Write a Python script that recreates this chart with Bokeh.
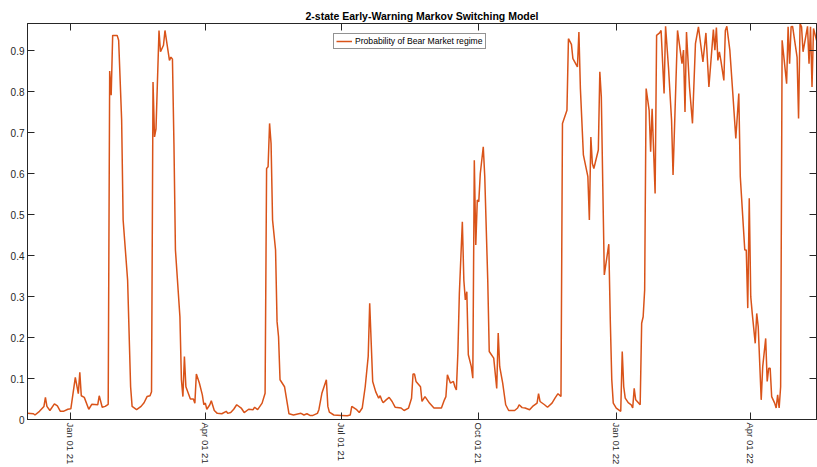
import pandas as pd
from bokeh.plotting import figure
from bokeh.models import (Range1d, LinearAxis, DatetimeAxis, FixedTicker,
                          DatetimeTickFormatter, Legend, LegendItem)
from bokeh.embed import file_html
from bokeh.resources import INLINE

# ---------------- data ----------------
BASE_DATE = "2021-01-01"
day_offset = [
    -29, -25, -24, -21, -18, -17, -16, -14, -11, -9, -7, -5, -2, 0, 3, 5, 6, 7, 9, 12,
    14, 18, 19, 21, 23, 25, 26, 27, 28, 31, 32, 34, 35, 38, 40, 41, 44, 47, 49, 51,
    53, 54, 55, 56, 57, 59, 60, 62, 63, 66, 67, 68, 69, 70, 73, 74, 75, 76, 77, 80,
    82, 83, 84, 86, 88, 89, 90, 91, 93, 94, 96, 98, 101, 104, 105, 107, 109, 111, 114, 116,
    119, 122, 123, 125, 128, 130, 131, 132, 133, 134, 135, 137, 138, 139, 140, 143, 145, 146, 149, 154,
    156, 158, 160, 162, 165, 166, 168, 171, 172, 173, 176, 181, 185, 187, 188, 191, 193, 195, 197, 199,
    200, 202, 204, 206, 207, 208, 209, 211, 213, 215, 217, 221, 223, 226, 228, 229, 230, 231, 234, 235,
    237, 240, 243, 248, 250, 251, 252, 254, 256, 257, 258, 259, 260, 262, 263, 264, 265, 266, 268, 269,
    270, 271, 272, 273, 274, 276, 277, 279, 280, 283, 285, 286, 287, 289, 291, 293, 297, 299, 300, 302,
    304, 307, 309, 312, 313, 314, 317, 319, 322, 324, 326, 328, 329, 332, 333, 335, 336, 339, 340, 341,
    343, 346, 347, 348, 349, 350, 353, 354, 355, 356, 357, 360, 361, 362, 363, 365, 368, 369, 370, 371,
    373, 375, 376, 377, 378, 381, 382, 383, 384, 385, 387, 388, 389, 391, 392, 394, 395, 397, 398, 400,
    402, 403, 406, 409, 410, 411, 412, 414, 416, 418, 420, 423, 425, 427, 430, 431, 432, 433, 434, 435,
    437, 438, 439, 441, 443, 445, 447, 448, 451, 452, 453, 454, 455, 456, 458, 459, 460, 462, 463, 465,
    466, 467, 468, 469, 471, 472, 473, 474, 475, 476, 479, 480, 481, 482, 483, 486, 487, 488, 489, 490,
    493, 494, 495, 496, 497, 499,
]
bear_prob = [
    0.015, 0.014, 0.011, 0.020, 0.032, 0.054, 0.032, 0.022, 0.038, 0.033, 0.020, 0.020, 0.025, 0.026, 0.103, 0.063, 0.115, 0.058, 0.054, 0.025,
    0.037, 0.036, 0.058, 0.030, 0.032, 0.037, 0.851, 0.792, 0.938, 0.938, 0.926, 0.731, 0.487, 0.340, 0.080, 0.032, 0.024, 0.032, 0.041, 0.056,
    0.058, 0.068, 0.824, 0.690, 0.710, 0.950, 0.898, 0.914, 0.950, 0.877, 0.885, 0.880, 0.674, 0.414, 0.251, 0.097, 0.056, 0.154, 0.080, 0.050,
    0.050, 0.040, 0.111, 0.089, 0.060, 0.036, 0.040, 0.025, 0.036, 0.046, 0.022, 0.015, 0.014, 0.020, 0.015, 0.017, 0.025, 0.036, 0.028, 0.017,
    0.025, 0.024, 0.030, 0.024, 0.040, 0.064, 0.613, 0.617, 0.723, 0.674, 0.487, 0.414, 0.239, 0.202, 0.097, 0.080, 0.036, 0.014, 0.011, 0.015,
    0.011, 0.014, 0.010, 0.010, 0.015, 0.024, 0.064, 0.097, 0.032, 0.018, 0.011, 0.010, 0.009, 0.011, 0.032, 0.025, 0.017, 0.028, 0.080, 0.154,
    0.284, 0.093, 0.068, 0.052, 0.058, 0.048, 0.041, 0.048, 0.054, 0.044, 0.030, 0.028, 0.022, 0.028, 0.052, 0.111, 0.111, 0.093, 0.080, 0.044,
    0.056, 0.040, 0.028, 0.028, 0.048, 0.056, 0.109, 0.089, 0.093, 0.080, 0.072, 0.162, 0.308, 0.483, 0.340, 0.292, 0.312, 0.158, 0.129, 0.101,
    0.633, 0.426, 0.536, 0.532, 0.600, 0.666, 0.593, 0.340, 0.166, 0.150, 0.076, 0.211, 0.129, 0.089, 0.036, 0.022, 0.022, 0.028, 0.036, 0.029,
    0.028, 0.024, 0.032, 0.040, 0.063, 0.044, 0.036, 0.030, 0.040, 0.052, 0.063, 0.056, 0.723, 0.755, 0.930, 0.916, 0.881, 0.861, 0.946, 0.808,
    0.646, 0.593, 0.487, 0.690, 0.625, 0.613, 0.658, 0.849, 0.788, 0.568, 0.353, 0.428, 0.243, 0.097, 0.040, 0.028, 0.020, 0.166, 0.080, 0.052,
    0.041, 0.036, 0.028, 0.076, 0.048, 0.036, 0.235, 0.251, 0.316, 0.808, 0.755, 0.654, 0.759, 0.552, 0.938, 0.944, 0.950, 0.796, 0.960, 0.857,
    0.731, 0.597, 0.950, 0.869, 0.902, 0.751, 0.946, 0.812, 0.723, 0.918, 0.959, 0.873, 0.944, 0.812, 0.952, 0.902, 0.957, 0.877, 0.898, 0.877,
    0.828, 0.950, 0.960, 0.902, 0.796, 0.686, 0.796, 0.593, 0.414, 0.414, 0.272, 0.540, 0.300, 0.259, 0.186, 0.259, 0.227, 0.048, 0.129, 0.198,
    0.093, 0.125, 0.125, 0.056, 0.040, 0.028, 0.060, 0.028, 0.080, 0.926, 0.820, 0.959, 0.869, 0.959, 0.960, 0.885, 0.735, 0.967, 0.959, 0.898,
    0.960, 0.869, 0.959, 0.812, 0.955, 0.926,
]
y_ticks = [0, 0.1, 0.2, 0.3, 0.4, 0.5, 0.6, 0.7, 0.8, 0.9]
y_tick_labels = ["0", "0.1", "0.2", "0.3", "0.4", "0.5", "0.6", "0.7", "0.8", "0.9"]
x_tick_dates = ["2021-01-01", "2021-04-01", "2021-07-01", "2021-10-01", "2022-01-01", "2022-04-01"]
x_tick_labels = ["Jan 01 21", "Apr 01 21", "Jul 01 21", "Oct 01 21", "Jan 01 22", "Apr 01 22"]
series_label = "Probability of Bear Market regime"
title_text = "2-state Early-Warning Markov Switching Model"

# ---------------- build ----------------
dates = pd.Timestamp(BASE_DATE) + pd.to_timedelta(day_offset, unit="D")
x_tick_ms = [int(pd.Timestamp(d).value // 10**6) for d in x_tick_dates]

FONT = "Liberation Sans"
AXC = "#262626"
LINE = "#D95319"

p = figure(width=817, height=467, x_axis_type="datetime",
           output_backend="svg", toolbar_location=None,
           x_range=Range1d(dates[0], dates[-1]),
           y_range=Range1d(0, max(bear_prob)),
           min_border_left=27, min_border_right=1,
           min_border_top=23, min_border_bottom=47,
           background_fill_color="white", border_fill_color="white")

p.title.text = title_text
p.title.align = "center"
p.title.text_font = FONT
p.title.text_font_size = "10.5px"
p.title.text_font_style = "bold"
p.title.text_color = "black"
p.title.standoff = 4
p.title.offset = 0

r = p.line(dates, bear_prob, line_color=LINE, line_width=1.5)

p.grid.visible = False
p.outline_line_color = AXC
p.outline_line_width = 1

xfmt = DatetimeTickFormatter(days="%b %d %y", months="%b %d %y", years="%b %d %y")
xtick = FixedTicker(ticks=x_tick_ms)
ytick = FixedTicker(ticks=y_ticks)
x_over = {ms: lab for ms, lab in zip(x_tick_ms, x_tick_labels)}
y_over = {v: lab for v, lab in zip(y_ticks, y_tick_labels)}


def style(ax, labels=True, size="10px", standoff=4):
    ax.axis_line_color = AXC
    ax.major_tick_line_color = AXC
    ax.major_tick_in = 7
    ax.major_tick_out = 0
    ax.minor_tick_line_color = None
    ax.major_label_text_font = FONT
    if labels:
        ax.major_label_text_color = AXC
        ax.major_label_text_font_size = size
        ax.major_label_standoff = standoff
    else:
        # mirrored box ticks only: labels are not painted at all
        ax.major_label_text_color = None
        ax.major_label_text_font_size = "0px"
        ax.major_label_standoff = 0


xa = p.xaxis[0]
xa.ticker = xtick
xa.formatter = xfmt
xa.major_label_overrides = x_over
xa.major_label_orientation = "vertical"
style(xa, size="9.5px", standoff=3)

ya = p.yaxis[0]
ya.ticker = ytick
ya.major_label_overrides = y_over
style(ya, size="10px", standoff=3)

top = DatetimeAxis(ticker=xtick, formatter=xfmt)
style(top, labels=False)
p.add_layout(top, "above")
right = LinearAxis(ticker=ytick)
style(right, labels=False)
p.add_layout(right, "right")

legend = Legend(items=[LegendItem(label=series_label, renderers=[r])],
                location=(306, 370), margin=0, padding=2, spacing=0,
                glyph_width=16, glyph_height=10, label_standoff=3,
                label_text_font=FONT, label_text_font_size="8.6px",
                label_text_color="black", label_height=10,
                border_line_color=AXC, border_line_width=1,
                background_fill_color="white", background_fill_alpha=1)
p.add_layout(legend)

open("out.html", "w").write(file_html(p, INLINE))
